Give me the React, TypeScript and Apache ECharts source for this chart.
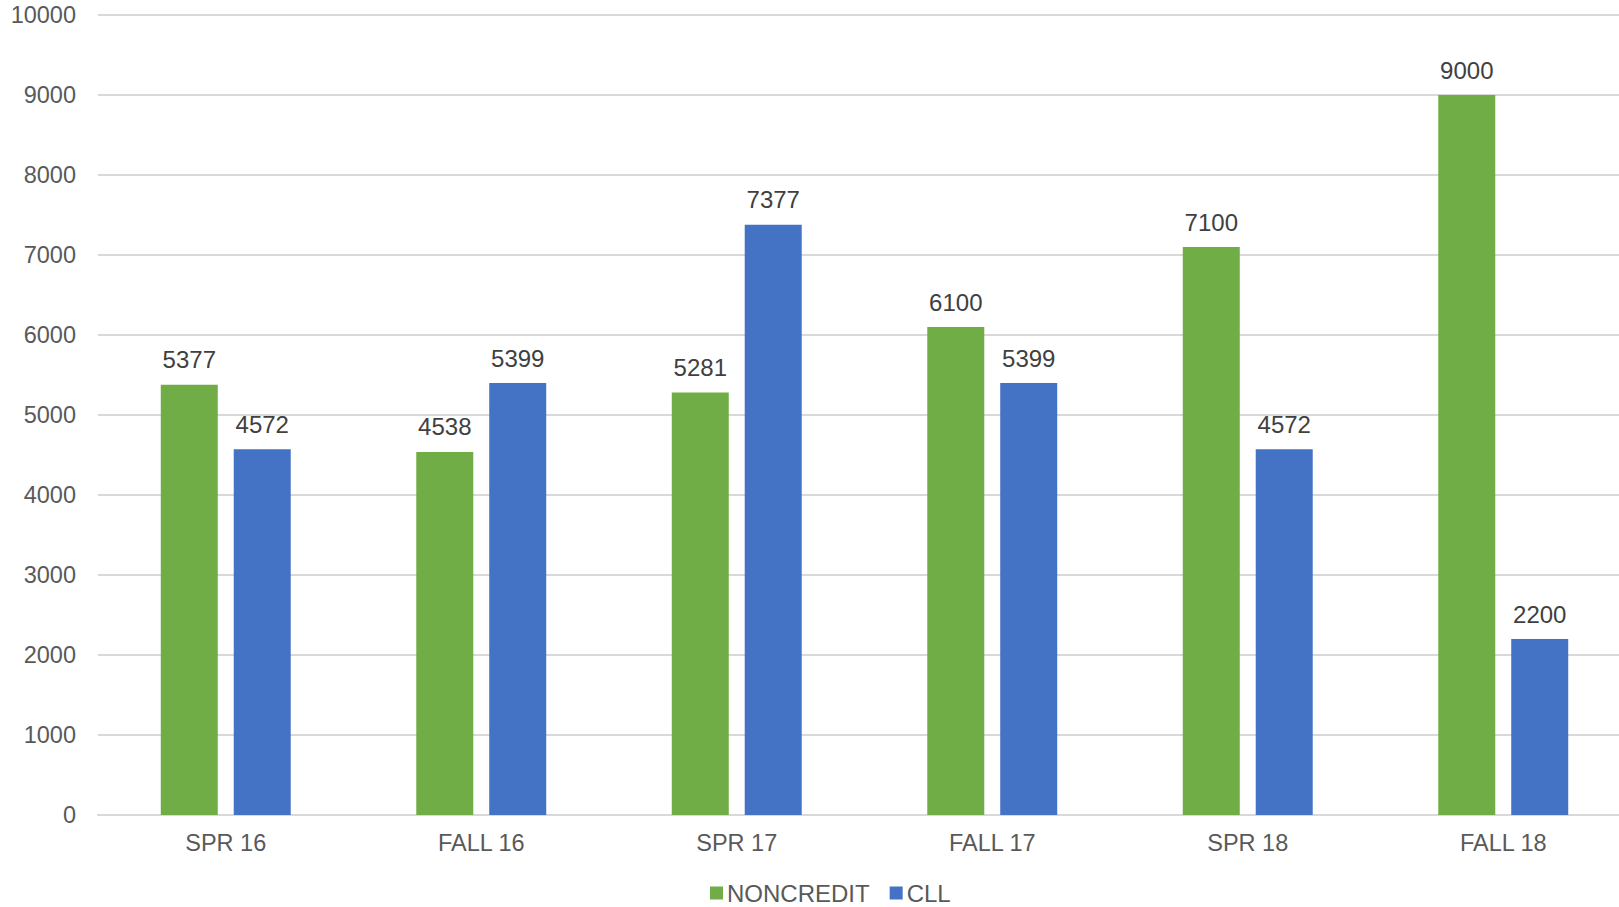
import React, { useEffect, useRef } from "react";
import * as echarts from "echarts";

const categories = ["SPR 16", "FALL 16", "SPR 17", "FALL 17", "SPR 18", "FALL 18"];
const noncredit = [5377, 4538, 5281, 6100, 7100, 9000];
const cll = [4572, 5399, 7377, 5399, 4572, 2200];
const seriesNames = ["NONCREDIT", "CLL"];

const FONT = "'Liberation Sans', Arial, sans-serif";

export default function App() {
  const ref = useRef<HTMLDivElement>(null);
  useEffect(() => {
    document.body.style.margin = "0";
    const chart = echarts.init(ref.current!, null, { renderer: "svg" });
    const label = {
      show: true,
      position: "top" as const,
      distance: 13,
      color: "#404040",
      fontSize: 24,
      fontFamily: FONT,
    };
    chart.setOption({
      animation: false,
      textStyle: { fontFamily: FONT },
      grid: { left: 98, right: 0, top: 15, bottom: 92, containLabel: false },
      legend: {
        left: 705,
        top: 876,
        itemWidth: 13,
        itemHeight: 13,
        itemGap: 20,
        icon: "rect",
        textStyle: { color: "#595959", fontSize: 24, fontFamily: FONT, padding: [0, 0, 0, -1] },
        data: seriesNames,
      },
      xAxis: {
        type: "category",
        data: categories,
        axisLine: { lineStyle: { color: "#d9d9d9", width: 2 } },
        axisTick: { show: false },
        axisLabel: { color: "#595959", fontSize: 23.5, fontFamily: FONT, margin: 16 },
      },
      yAxis: {
        type: "value",
        min: 0,
        max: 10000,
        interval: 1000,
        axisLine: { show: false },
        axisTick: { show: false },
        splitLine: { lineStyle: { color: "#d9d9d9", width: 2 } },
        axisLabel: {
          color: "#595959",
          fontSize: 23.5,
          fontFamily: FONT,
          margin: 22,
          formatter: (v: number) => String(v),
        },
      },
      series: [
        {
          name: seriesNames[0],
          type: "bar",
          data: noncredit,
          barWidth: 57,
          barGap: "28%",
          itemStyle: { color: "#70AD47" },
          label,
        },
        {
          name: seriesNames[1],
          type: "bar",
          data: cll,
          barWidth: 57,
          barGap: "28%",
          itemStyle: { color: "#4472C4" },
          label,
        },
      ],
    });
    return () => chart.dispose();
  }, []);
  return (
    <div
      style={{ position: "absolute", left: 0, top: 0, width: 1619, height: 907, overflow: "hidden" }}
    >
      <div ref={ref} style={{ width: 1631, height: 907 }} />
    </div>
  );
}
